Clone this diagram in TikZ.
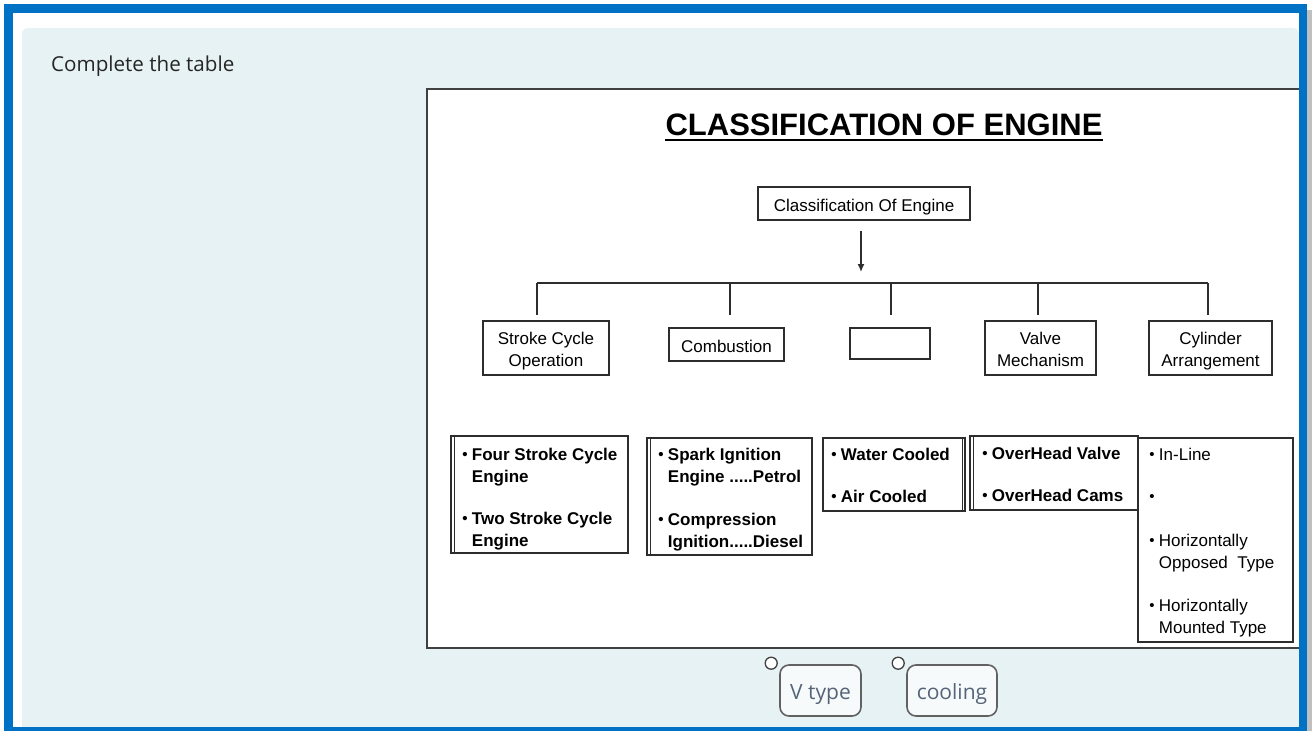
\documentclass[tikz,border=0pt]{standalone}
\usepackage{fontspec}
\setmainfont{Liberation Sans}
\newfontfamily\uifont{Open Sans}
\usetikzlibrary{
  arrows.meta,
  calc,
  positioning
}
\definecolor{frameblue}{RGB}{0,114,198}
\definecolor{panelbg}{RGB}{231,242,245}
\definecolor{inkgray}{RGB}{45,45,45}
\definecolor{tokentext}{RGB}{85,100,120}
\newcommand{\itm}{\makebox[9.5pt][l]{\raisebox{1pt}{\fontsize{15}{15}\selectfont\textbullet}}}
\newcommand{\cnt}{\hspace*{9.5pt}}
\tikzset{
  catbox/.style={draw=inkgray, line width=1.3pt, align=center, inner sep=0pt, font=\fontsize{17}{22}\selectfont},
  oneline/.style={text height=16pt, text depth=0pt},
  listbox/.style={draw=inkgray, line width=1.5pt, inner sep=0pt},
  listtext/.style={align=left, inner sep=0pt, anchor=north west, font=\fontsize{17}{22}\selectfont\bfseries},
  token/.style={draw=black!62, line width=1.6pt, rounded corners=9pt, fill=white!65!panelbg, minimum width=81pt, minimum height=51pt, inner sep=0pt, text=tokentext, font=\uifont\fontsize{21}{24}\selectfont, text height=18pt, text depth=0pt},
  handle/.style={circle, draw=black!75, line width=1.3pt, fill=white, minimum size=12pt, inner sep=0pt}
}

\begin{document}
\begin{tikzpicture}[x=1pt, y=-1pt]
  \useasboundingbox (0,0) rectangle (1315,731);
  \fill[white] (0,0) rectangle (1315,731);
  \fill[black!25] (1307,10) rectangle (1312,731);
  \fill[panelbg, rounded corners=6pt] (22,28) rectangle (1299,745);

  \node[anchor=base west, inner sep=0pt, text=black!85, font=\uifont\fontsize{20.6}{24}\selectfont] (task) at (51,71) {Complete the table};

  \draw[fill=white, draw=black!75, line width=1.5pt] (427,89) rectangle (1305,648);

  \node[anchor=base, inner sep=0pt, font=\fontsize{31}{36}\selectfont\bfseries] (title) at (884,135) {CLASSIFICATION OF ENGINE};
  \draw[line width=2pt] ($(title.base west)+(0,4.5)$) -- ($(title.base east)+(0,4.5)$);

  \node[catbox, oneline, minimum width=212pt, minimum height=33pt] (root) at (864,203.5) {Classification Of Engine};
  \node[catbox, minimum width=126pt, minimum height=54pt] (stroke) at (546,348) {\rule{0pt}{18.5pt}Stroke Cycle\\Operation};
  \node[catbox, oneline, minimum width=115pt, minimum height=33pt] (comb) at (726.5,344.5) {Combustion};
  \node[catbox, minimum width=80pt, minimum height=31pt] (cool) at (890,343.5) {};
  \node[catbox, minimum width=111pt, minimum height=54pt] (valve) at (1040.5,348) {\rule{0pt}{14.5pt}Valve\\Mechanism};
  \node[catbox, minimum width=123pt, minimum height=54pt] (cyl) at (1210.5,348) {\rule{0pt}{18.5pt}Cylinder\\Arrangement};

  \coordinate (bus) at (864,283);
  \draw[-{Latex[length=8pt,width=7pt]}, line width=1.4pt, inkgray] ($(root.south)+(-3,10)$) -- ($(root.south |- bus)+(-3,-11)$);
  \draw[line width=1.3pt, inkgray] ($(stroke.north |- bus)+(-9,0)$) -- ($(cyl.north |- bus)+(-2.5,0)$);
  \foreach \n/\dx in {stroke/-9, comb/3.5, cool/1, valve/-2.5, cyl/-2.5}
    \draw[line width=1.3pt, inkgray] ($(\n.north |- bus)+(\dx,0)$) -- ++(0,32);

  \node[listbox, minimum width=177pt, minimum height=117pt] (l1) at (539.5,494.5) {};
  \node[listbox, minimum width=165pt, minimum height=117pt] (l2) at (729.5,496.5) {};
  \node[listbox, minimum width=142pt, minimum height=73pt] (l3) at (894,474.5) {};
  \node[listbox, minimum width=168pt, minimum height=74pt] (l4) at (1054,473) {};
  \node[listbox, minimum width=155pt, minimum height=204pt] (l5) at (1215.5,540) {};
  \draw[line width=1pt, inkgray] ($(l1.north west)+(4,0)$) -- ($(l1.south west)+(4,0)$);
  \draw[line width=1pt, inkgray] ($(l2.north west)+(4,0)$) -- ($(l2.south west)+(4,0)$);
  \draw[line width=1pt, inkgray] ($(l3.north east)+(-3.5,0)$) -- ($(l3.south east)+(-3.5,0)$);
  \draw[line width=1pt, inkgray] ($(l4.north west)+(4.5,0)$) -- ($(l4.south west)+(4.5,0)$);

  \node[listtext] (t1) at ($(l1.north west)+(12,13)$) {\itm Four Stroke Cycle\\\cnt Engine\\[20pt]\itm Two Stroke Cycle\\\cnt Engine};
  \node[listtext] (t2) at ($(l2.north west)+(12,11)$) {\itm Spark Ignition\\\cnt Engine .....Petrol\\[21pt]\itm Compression\\\cnt Ignition.....Diesel};
  \node[listtext] (t3) at ($(l3.north west)+(9,11)$) {\itm Water Cooled\\[20pt]\itm Air Cooled};
  \node[listtext] (t4) at ($(l4.north west)+(13,12)$) {\itm OverHead Valve\\[20pt]\itm OverHead Cams};
  \node[listtext, font=\fontsize{17}{22}\selectfont] (t5) at ($(l5.north west)+(12,11)$) {\itm In-Line\\[20pt]\itm\\[22pt]\itm Horizontally\\\cnt Opposed\ \ Type\\[21pt]\itm Horizontally\\\cnt Mounted Type};

  \node[token] (vtype) at (820.5,690.5) {V type};
  \node[token, minimum width=90pt] (cooling) at (952,690.5) {cooling};
  \node[handle] (hv) at ($(vtype.north west)+(-8,-1)$) {};
  \node[handle] (hc) at ($(cooling.north west)+(-8,-1)$) {};

  \draw[frameblue, line width=8.5pt] (8.5,8.5) rectangle (1303,731.5);
\end{tikzpicture}
\end{document}
